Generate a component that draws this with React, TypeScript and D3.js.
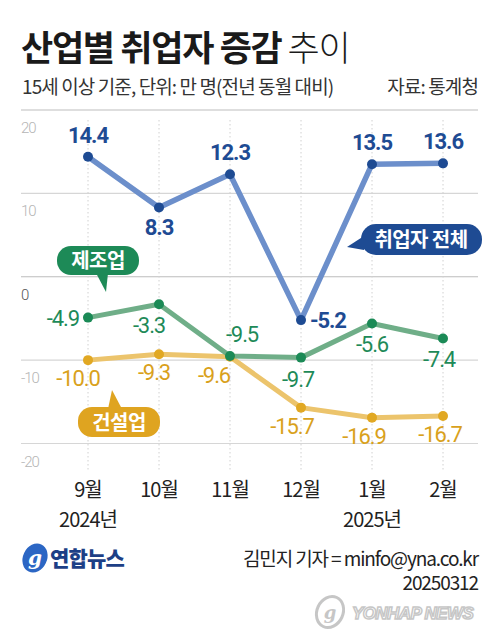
import React from "react";
import * as d3 from "d3";

const months = ["9월", "10월", "11월", "12월", "1월", "2월"];
const years = [
  { label: "2024년", idx: 0 },
  { label: "2025년", idx: 4 },
];
const total = [14.4, 8.3, 12.3, -5.2, 13.5, 13.6];
const manufacturing = [-4.9, -3.3, -9.5, -9.7, -5.6, -7.4];
const construction = [-10.0, -9.3, -9.6, -15.7, -16.9, -16.7];
const yTicks = [20, 10, 0, -10, -20];

const W = 499;
const H = 643;
const FONT = "'Noto Sans CJK KR', 'Noto Sans', sans-serif";

// label offsets [dx, dy, anchor]
type Off = [number, number, string];
const totalOff: Off[] = [
  [0, -14, "middle"],
  [0, 27, "middle"],
  [0, -14, "middle"],
  [9, 8, "start"],
  [0, -14, "middle"],
  [0, -14, "middle"],
];
const manuOff: Off[] = [
  [-9, 8, "end"],
  [-10, 29, "middle"],
  [12, -14, "middle"],
  [-3, 29, "middle"],
  [0, 29, "middle"],
  [-4, 29, "middle"],
];
const consOff: Off[] = [
  [-10, 26, "middle"],
  [-5, 26, "middle"],
  [-16, 26, "middle"],
  [-9, 26, "middle"],
  [-8, 26, "middle"],
  [-3, 26, "middle"],
];

export default function App() {
  const x = d3.scalePoint<string>().domain(months).range([88, 443]);
  const y = d3.scaleLinear().domain([-20, 20]).range([443.5, 110]);
  const line = d3
    .line<number>()
    .x((_, i) => x(months[i]) as number)
    .y((d) => y(d));

  const series = [
    { data: construction, line: "#ecc46c", dot: "#e1a823", text: "#d9a11c", w: 5, off: consOff, bold: false },
    { data: manufacturing, line: "#6fae88", dot: "#1b8a56", text: "#1e8a58", w: 5, off: manuOff, bold: false },
    { data: total, line: "#6c8fcb", dot: "#1e4b93", text: "#1e4b93", w: 5.5, off: totalOff, bold: true },
  ];

  return (
    <svg width={W} height={H} style={{ position: "absolute", left: 0, top: 0, background: "#fff" }} fontFamily={FONT}>
      <rect width={W} height={H} fill="#fff" />
      {/* title */}
      <text x={21} y={61} fontSize={35} letterSpacing={-1.3} fill="#1a1a1a">
        <tspan fontWeight={700}>산업별 취업자 증감</tspan>
        <tspan fontWeight={300} dx={6}>추이</tspan>
      </text>
      <text x={22} y={94} fontSize={19} letterSpacing={-0.9} fill="#333" fontWeight={400}>
        15세 이상 기준, 단위: 만 명(전년 동월 대비)
      </text>
      <text x={478} y={94} fontSize={19} letterSpacing={-0.9} fill="#333" textAnchor="end">
        자료: 통계청
      </text>

      {/* grid */}
      {yTicks.map((t) => (
        <g key={t}>
          <line x1={21} x2={478} y1={y(t)} y2={y(t)} stroke={t === 0 || t === 20 ? "#bdbdbd" : "#d6d6d6"} strokeWidth={1.2} />
          <text x={21} y={y(t) + 23} fontSize={15} fill={t === 0 ? "#555" : "#b5b5b5"} fontFamily="'Roboto', sans-serif" fontWeight={300} letterSpacing={-1}>
            {t}
          </text>
        </g>
      ))}
      {months.map((m) => (
        <line key={m} x1={x(m)} x2={x(m)} y1={120} y2={470} stroke="#d0d0d0" strokeWidth={1} strokeDasharray="1.5,2.5" />
      ))}

      {/* lines */}
      {series.map((s, si) => (
        <path key={si} d={line(s.data) || ""} fill="none" stroke={s.line} strokeWidth={s.w} strokeLinejoin="round" />
      ))}
      {series.map((s, si) =>
        s.data.map((v, i) => (
          <circle key={`${si}-${i}`} cx={x(months[i])} cy={y(v)} r={5} fill={s.dot} />
        ))
      )}
      {series.map((s, si) =>
        s.data.map((v, i) => {
          const o = s.off[i];
          return (
            <text
              key={`t${si}-${i}`}
              x={(x(months[i]) as number) + o[0]}
              y={y(v) + o[1]}
              textAnchor={o[2] as any}
              fontSize={22}
              fontWeight={s.bold ? 700 : 400}
              fill={s.text}
              letterSpacing={-1.1}
              fontFamily="'Roboto', 'Noto Sans', sans-serif"
            >
              {v.toFixed(1)}
            </text>
          );
        })
      )}

      {/* legend bubbles */}
      <g>
        <rect x={57} y={246} width={82} height={29} rx={14} fill="#1d8a57" />
        <path d="M96,273 L108,273 L106,292 Z" fill="#1d8a57" />
        <text x={98} y={268} textAnchor="middle" fontSize={20} fontWeight={700} fill="#fff" letterSpacing={-0.5}>제조업</text>
      </g>
      <g>
        <rect x={78} y={407} width={82} height={30} rx={14} fill="#dfa420" />
        <path d="M108,409 L122,409 L112,390 Z" fill="#dfa420" />
        <text x={119} y={430} textAnchor="middle" fontSize={20} fontWeight={700} fill="#fff" letterSpacing={-0.5}>건설업</text>
      </g>
      <g>
        <rect x={361} y={224} width={121} height={31} rx={15} fill="#1e4b93" />
        <path d="M364,236 L364,250 L347,247 Z" fill="#1e4b93" />
        <text x={421} y={247} textAnchor="middle" fontSize={20} fontWeight={700} fill="#fff" letterSpacing={-0.6}>취업자 전체</text>
      </g>

      {/* x labels */}
      {months.map((m) => (
        <text key={m} x={x(m)} y={497} textAnchor="middle" fontSize={20} fill="#222" letterSpacing={-1}>
          {m}
        </text>
      ))}
      {years.map((yr) => (
        <text key={yr.label} x={x(months[yr.idx])} y={527} textAnchor="middle" fontSize={20} fill="#222" letterSpacing={-1}>
          {yr.label}
        </text>
      ))}

      {/* footer logo */}
      <g>
        <ellipse cx={35} cy={558} rx={12} ry={15} fill="#2b66c4" transform="rotate(25 35 558)" />
        <text x={35} y={565} textAnchor="middle" fontSize={20} fontStyle="italic" fontWeight={700} fill="#fff" fontFamily="'DejaVu Serif', serif">g</text>
        <text x={50} y={566} fontSize={21} fontWeight={900} fill="#1d3f86" letterSpacing={-0.8}>연합뉴스</text>
      </g>
      <text textAnchor="end" fontSize={19} fill="#222" letterSpacing={-1.1}>
        <tspan x={478} y={566}>김민지 기자 = minfo@yna.co.kr</tspan>
        <tspan x={478} y={590}>20250312</tspan>
      </text>
      {/* watermark */}
      <g opacity={0.55}>
        <ellipse cx={330} cy={612} rx={13} ry={16} fill="none" stroke="#999" strokeWidth={3} transform="rotate(25 330 612)" />
        <text x={330} y={619} textAnchor="middle" fontSize={18} fontStyle="italic" fontWeight={700} fill="#999" fontFamily="'DejaVu Serif', serif">g</text>
        <text x={352} y={619} fontSize={17} fontStyle="italic" fontWeight={900} fill="#fff" stroke="#999" strokeWidth={1.5} fontFamily="'Liberation Sans', sans-serif" letterSpacing={-0.6}>
          YONHAP NEWS
        </text>
      </g>
    </svg>
  );
}
